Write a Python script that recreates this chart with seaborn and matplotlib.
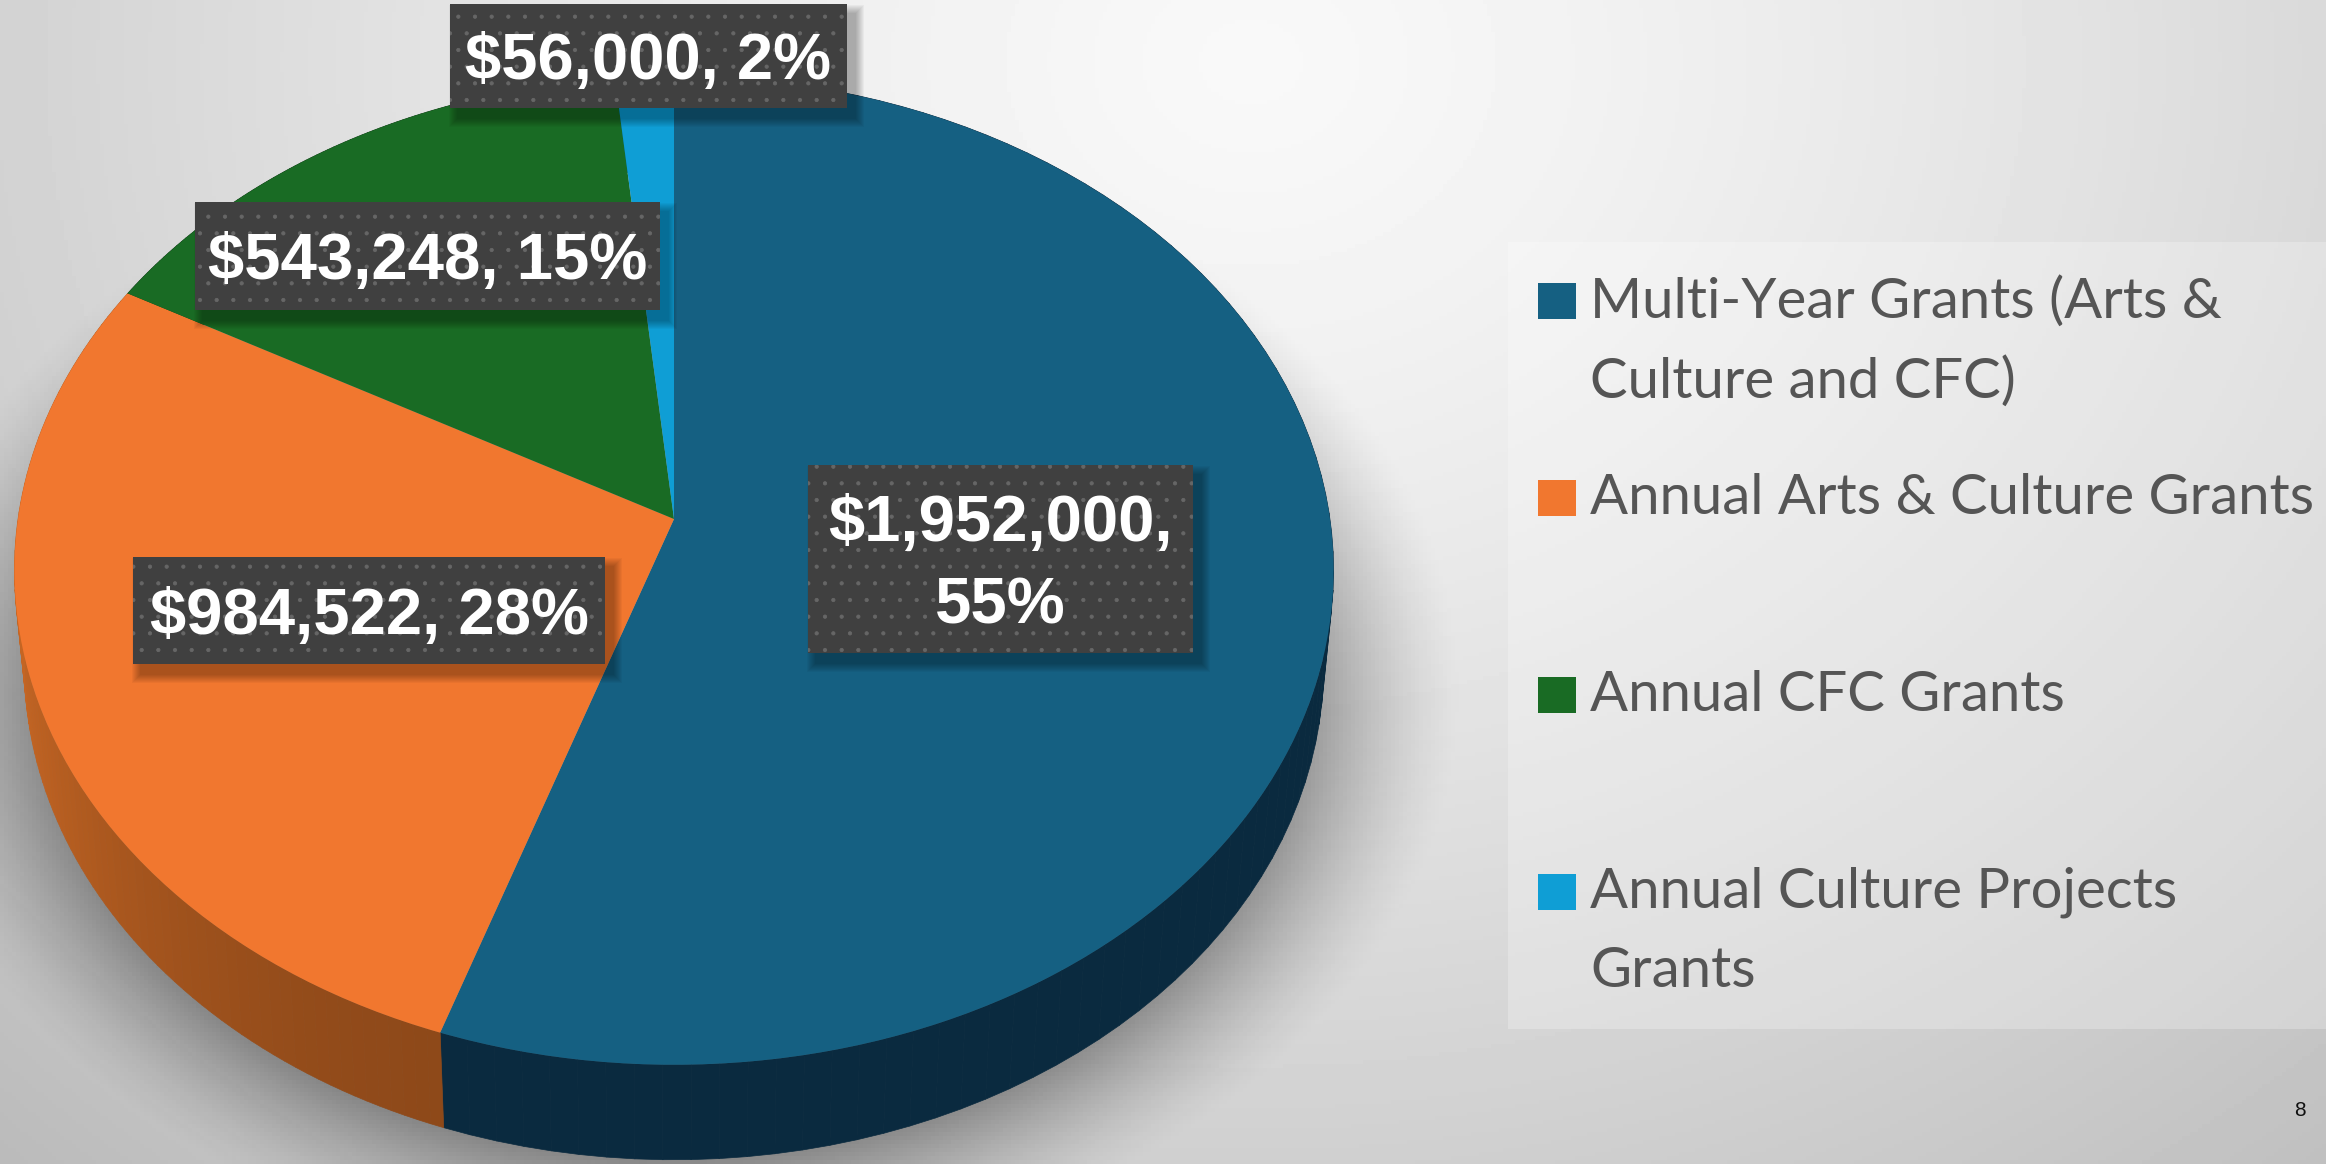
import numpy as np
import seaborn as sns
import matplotlib.pyplot as plt
from matplotlib.collections import PolyCollection
from matplotlib.colors import to_rgb
from matplotlib.patches import Rectangle
from matplotlib.transforms import Transform

# Data

categories = ['Multi-Year Grants (Arts &\nCulture and CFC)', 'Annual Arts & Culture Grants',
              'Annual CFC Grants', 'Annual Culture Projects\nGrants']
grant_values = [1952000, 984522, 543248, 56000]
slice_labels = ['$1,952,000,\n55%', '$984,522, 28%', '$543,248, 15%', '$56,000, 2%']
slice_colors = ['#156082', '#F1772F', '#196B24', '#0F9ED5']
side_colors = ['#0A2A3F', '#8C4819', '#0E3D15', '#0A5C7D']
page_number = '8'

W, H = 2326, 1164
label_boxes = [(808, 465, 385, 188), (133, 557, 472, 107), (195, 202, 465, 108), (450, 4, 397, 104)]


class Tilt(Transform):
    # pie lying on a table: unit circle to picture pixels
    input_dims = 2
    output_dims = 2
    is_affine = False
    cx, cy, a, b, k = 674, 519, 656, 489, 0.104

    def transform_non_affine(self, xy):
        xy = np.asarray(xy, dtype=float)
        d = 1 + self.k * xy[:, 1]
        return np.column_stack((self.cx + self.a * xy[:, 0] / d, self.cy - self.b * xy[:, 1] / d))


sns.set_theme(style='white')
plt.rcParams['font.family'] = ['Liberation Sans', 'DejaVu Sans']
plt.rcParams['hatch.linewidth'] = 0.6

fig = plt.figure(figsize=(W / 100, H / 100), dpi=100)
ax = fig.add_axes([0, 0, 1, 1])

# Background gradient

xx, yy = np.meshgrid(np.arange(0, W, 4), np.arange(0, H, 4))
dist = np.sqrt(((xx - 1250) / 1500) ** 2 + ((yy - 60) / 1250) ** 2)
grey = np.clip(0.975 - 0.19 * dist ** 1.3, 0, 1)
ax.imshow(grey, cmap='gray', vmin=0, vmax=1, extent=(0, W, H, 0), aspect='auto', zorder=0)

# Soft shadow under the pie

r = np.sqrt(((xx - 675) / 705) ** 2 + ((yy - 690) / 520) ** 2)
shadow = np.zeros(xx.shape + (4,))
shadow[..., 3] = np.clip((1.12 - r) / 0.22, 0, 1) ** 1.5 * 0.33
ax.imshow(shadow, extent=(0, W, H, 0), aspect='auto', zorder=1)

# Pie top, side wall under it

tilt = Tilt()
wedges, _ = ax.pie(grant_values, colors=sns.color_palette(slice_colors), startangle=90,
                   counterclock=False, radius=1, wedgeprops={'linewidth': 0})
for w in wedges:
    w.set_transform(tilt + ax.transData)
    w.set_zorder(4)
    w.set_antialiased(True)

fractions = np.cumsum([0] + grant_values) / np.sum(grant_values) * 2 * np.pi
for i in range(len(grant_values)):
    th = np.linspace(fractions[i], fractions[i + 1], 90)
    top = tilt.transform_non_affine(np.column_stack((np.sin(th), np.cos(th))))
    low = top.copy()
    low[:, 0] = 675 + (low[:, 0] - 675) * 0.985
    low[:, 1] = low[:, 1] + 95
    quads = [np.array([top[j], top[j + 1], low[j + 1], low[j]]) for j in range(len(th) - 1)]
    base = np.array(to_rgb(side_colors[i]))
    shade = 1 + 0.42 * np.clip(np.sin(th[:-1]) * -1 * (i == 1), 0, 1) ** 3
    cols = [np.clip(base * s, 0, 1) for s in shade]
    ax.add_collection(PolyCollection(quads, facecolors=cols, edgecolors=cols, linewidths=0.5, zorder=3))

# Value boxes

for (x, y, w, h), lab in zip(label_boxes, slice_labels):
    for grow in range(1, 10):
        ax.add_patch(Rectangle((x + 8 - grow, y + 10 - grow), w + 2 * grow, h + 2 * grow,
                               facecolor='black', edgecolor='none', alpha=0.035, zorder=5))
    ax.add_patch(Rectangle((x, y), w, h, facecolor='#404040', edgecolor='none', zorder=6))
    ax.add_patch(Rectangle((x, y), w, h, facecolor='none', edgecolor='#666666', hatch='.',
                           linewidth=0, zorder=6))
    ax.text(x + w / 2, y + h / 2 + 6, lab, color='white', fontsize=47, fontweight='bold',
            ha='center', va='center', linespacing=1.48, zorder=7)

# Legend

ax.add_patch(Rectangle((1508, 242), W - 1508, 787, facecolor='white', edgecolor='none', alpha=0.25, zorder=1))
for i, lab in enumerate(categories):
    row_y = 301 + 197 * i
    ax.add_patch(Rectangle((1538, row_y - 18), 38, 36, facecolor=slice_colors[i], edgecolor='none', zorder=3))
    ax.text(1590, row_y - 25, lab, color='#555555', fontsize=40.5, family=['Lato', 'DejaVu Sans'],
            ha='left', va='top', linespacing=1.66, zorder=3)

ax.text(2300, 1111, page_number, color='#111111', fontsize=15, ha='center', va='center', zorder=3)

ax.set_aspect('auto')
ax.set_xlim(0, W)
ax.set_ylim(H, 0)
ax.axis('off')

fig.savefig('out.png', dpi=100)
